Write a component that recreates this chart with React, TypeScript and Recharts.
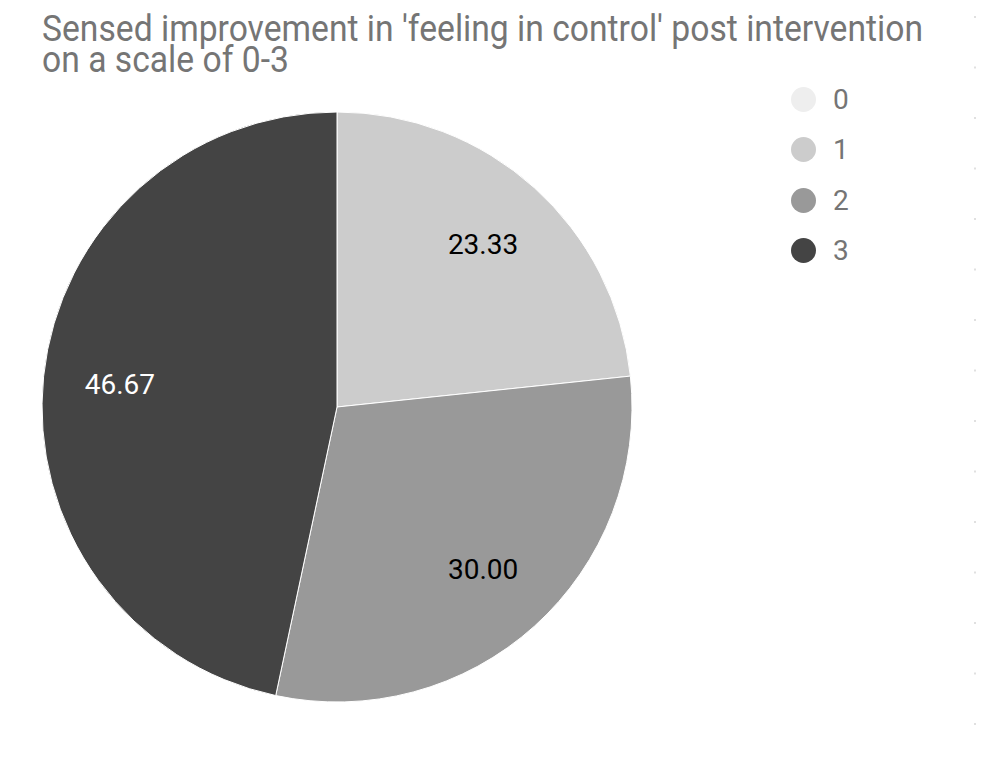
import React from 'react';
import { PieChart, Pie, Cell } from 'recharts';

const categories = ['0', '1', '2', '3'];
const values = [0, 23.33, 30.0, 46.67];
const colors = ['#eeeeee', '#cccccc', '#999999', '#444444'];
const labelColors = ['#000000', '#000000', '#000000', '#ffffff'];
const titleLines = ["Sensed improvement in 'feeling in control' post intervention", 'on a scale of 0-3'];

const data = categories.map((c, i) => ({ name: c, value: values[i] }));

const RAD = Math.PI / 180;

const renderLabel = (props: any) => {
  const { cx, cy, midAngle, outerRadius, index, value } = props;
  if (!value) return null;
  const r = outerRadius * 0.74;
  const x = cx + r * Math.cos(-midAngle * RAD);
  const y = cy + r * Math.sin(-midAngle * RAD);
  return (
    <text
      x={x}
      y={y}
      fill={labelColors[index]}
      textAnchor="middle"
      dominantBaseline="central"
      fontFamily="Roboto, sans-serif"
      fontSize={28}
    >
      {value.toFixed(2)}
    </text>
  );
};

export default function App() {
  return (
    <div style={{ position: 'absolute', left: 0, top: 0, width: 981, height: 765, background: '#fff', fontFamily: 'Roboto, sans-serif' }}>
      {titleLines.map((t, i) => (
        <div
          key={i}
          style={{
            position: 'absolute',
            left: 42,
            top: 14 + i * 31,
            height: 30,
            color: '#757575',
            fontSize: 36,
            lineHeight: '30px',
            whiteSpace: 'nowrap',
            transform: 'scaleX(0.935)',
            transformOrigin: 'left top',
          }}
        >
          {t}
        </div>
      ))}
      <div style={{ position: 'absolute', left: 0, top: 0 }}>
        <PieChart width={981} height={765} margin={{ top: 0, right: 0, bottom: 0, left: 0 }}>
          <Pie
            data={data}
            dataKey="value"
            nameKey="name"
            cx={337}
            cy={407}
            outerRadius={295}
            startAngle={90}
            endAngle={-270}
            stroke="#ffffff"
            strokeWidth={1}
            label={renderLabel}
            labelLine={false}
            isAnimationActive={false}
          >
            {data.map((d, i) => (
              <Cell key={d.name} fill={colors[i]} />
            ))}
          </Pie>
        </PieChart>
      </div>
      {categories.map((c, i) => (
        <div key={c} style={{ position: 'absolute', left: 791, top: 87 + i * 50.3, display: 'flex', alignItems: 'center', height: 25 }}>
          <div style={{ width: 25, height: 25, borderRadius: '50%', background: colors[i] }} />
          <div style={{ marginLeft: 17, color: '#757575', fontSize: 28 }}>{c}</div>
        </div>
      ))}
      <svg style={{ position: 'absolute', left: 973, top: 0 }} width={4} height={765}>
        <line x1={2} y1={16} x2={2} y2={730} stroke="#d6d6d6" strokeWidth={1.5} strokeDasharray="2 48.5" />
      </svg>
    </div>
  );
}
